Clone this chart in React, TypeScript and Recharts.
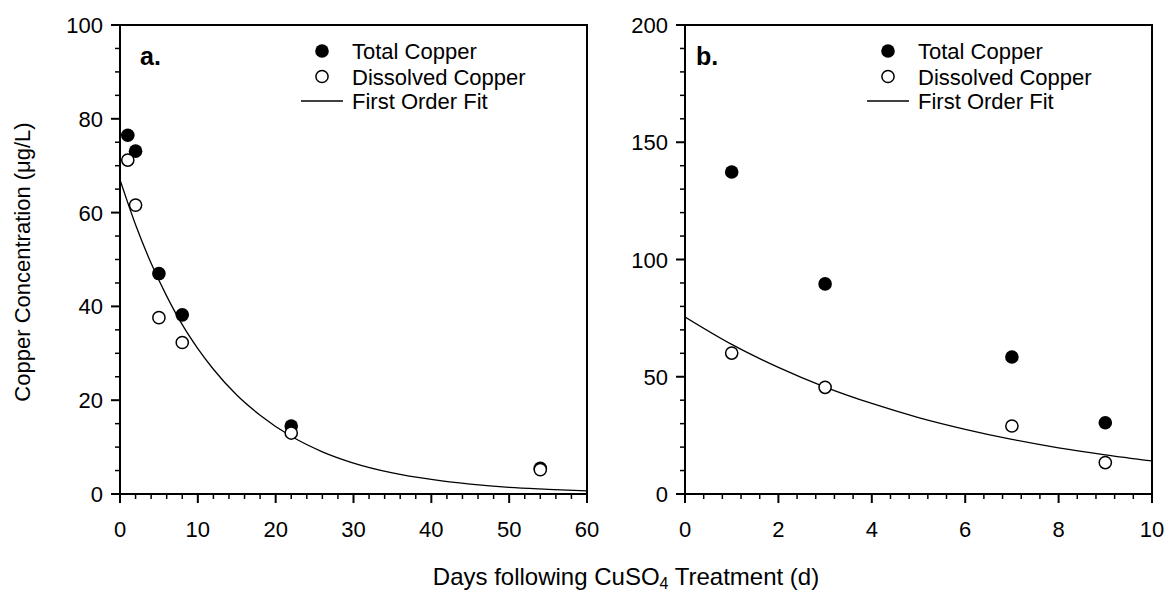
import React from 'react';
import { ComposedChart, Scatter, Line, XAxis, YAxis, ReferenceLine, Legend } from 'recharts';

const FONT = '"Liberation Sans", Arial, Helvetica, sans-serif';

// ---------- Panel a ----------
const daysA = [1, 2, 5, 8, 22, 54];
const totalA = [76.5, 73.1, 47.0, 38.2, 14.5, 5.5];
const dissolvedA = [71.2, 61.6, 37.6, 32.3, 13.0, 5.2];
const fitDaysA = [0, 2, 4, 6, 8, 10, 12, 15, 18, 22, 26, 30, 35, 40, 45, 50, 55, 60];
const fitA = [67.0, 57.4, 49.2, 42.2, 36.1, 31.0, 26.6, 21.1, 16.8, 12.3, 9.0, 6.6, 4.5, 3.1, 2.1, 1.4, 1.0, 0.66];

// ---------- Panel b ----------
const daysB = [1, 3, 7, 9];
const totalB = [137.3, 89.6, 58.4, 30.4];
const dissolvedB = [60.1, 45.5, 29.0, 13.4];
const fitDaysB = [0, 1, 2, 3, 4, 5, 6, 7, 8, 9, 10];
const fitB = [75.5, 63.8, 54.0, 45.6, 38.6, 32.6, 27.6, 23.3, 19.7, 16.7, 14.1];

// ---------- Ticks ----------
const xMajorA = [0, 10, 20, 30, 40, 50, 60];
const yMajorA = [0, 20, 40, 60, 80, 100];
const xMajorB = [0, 2, 4, 6, 8, 10];
const yMajorB = [0, 50, 100, 150, 200];

const legendLabels = ['Total Copper', 'Dissolved Copper', 'First Order Fit'];

const TICK_FS = 22;

const toPts = (xs: number[], ys: number[]) => xs.map((x, i) => ({ x, y: ys[i] }));

const withMinors = (max: number, step: number) => {
  const out: number[] = [];
  const n = Math.round(max / step);
  for (let i = 0; i <= n; i++) out.push(Math.round(i * step * 1000) / 1000);
  return out;
};

const isIn = (arr: number[], v: number) => arr.some((m) => Math.abs(m - v) < 1e-6);

const makeXTick = (majors: number[]) => (props: any) => {
  const { x, y, payload } = props;
  const v = payload.value;
  const major = isIn(majors, v);
  return (
    <g>
      <line x1={x} x2={x} y1={y} y2={y + (major ? 9 : 5)} stroke="#000" strokeWidth={major ? 2 : 1.5} />
      {major && (
        <text x={x} y={y + 43} textAnchor="middle" fontSize={TICK_FS} fontFamily={FONT} fill="#000">
          {String(v)}
        </text>
      )}
    </g>
  );
};

const makeYTick = (majors: number[]) => (props: any) => {
  const { x, y, payload } = props;
  const v = payload.value;
  const major = isIn(majors, v);
  return (
    <g>
      <line x1={x - (major ? 9 : 5)} x2={x} y1={y} y2={y} stroke="#000" strokeWidth={major ? 2 : 1.5} />
      {major && (
        <text x={x - 17} y={y + 8} textAnchor="end" fontSize={TICK_FS} fontFamily={FONT} fill="#000">
          {String(v)}
        </text>
      )}
    </g>
  );
};

const filledShape = (p: any) => <circle cx={p.cx} cy={p.cy} r={6.8} fill="#000" />;
const openShape = (p: any) => <circle cx={p.cx} cy={p.cy} r={6.1} fill="#fff" stroke="#000" strokeWidth={1.5} />;

const LegendContent = () => (
  <svg width={280} height={84} style={{ overflow: 'visible' }}>
    <circle cx={32} cy={13} r={6.8} fill="#000" />
    <text x={62} y={21} fontSize={TICK_FS} fontFamily={FONT} fill="#000">{legendLabels[0]}</text>
    <circle cx={32} cy={38.5} r={6.1} fill="#fff" stroke="#000" strokeWidth={1.5} />
    <text x={62} y={46.5} fontSize={TICK_FS} fontFamily={FONT} fill="#000">{legendLabels[1]}</text>
    <line x1={11} x2={53} y1={63} y2={63} stroke="#000" strokeWidth={1.3} />
    <text x={62} y={71} fontSize={TICK_FS} fontFamily={FONT} fill="#000">{legendLabels[2]}</text>
  </svg>
);

const YAxisTitle = () => (
  <text
    x={30}
    y={262}
    transform="rotate(-90 30 262)"
    textAnchor="middle"
    fontSize={22}
    fontFamily={FONT}
    fill="#000"
  >
    Copper Concentration (μg/L)
  </text>
);

interface PanelProps {
  width: number;
  margin: { top: number; right: number; bottom: number; left: number };
  xMax: number;
  yMax: number;
  xStep: number;
  yStep: number;
  xMajor: number[];
  yMajor: number[];
  total: { x: number; y: number }[];
  dissolved: { x: number; y: number }[];
  fit: { x: number; y: number }[];
  legendLeft: number;
  yLabel?: boolean;
}

const Panel = (p: PanelProps) => (
  <ComposedChart width={p.width} height={592} margin={p.margin}>
    <XAxis
      type="number"
      dataKey="x"
      domain={[0, p.xMax]}
      ticks={withMinors(p.xMax, p.xStep)}
      interval={0}
      tickSize={0}
      tickMargin={0}
      tickLine={false}
      tick={makeXTick(p.xMajor)}
      axisLine={{ stroke: '#000', strokeWidth: 2 }}
      height={40}
      allowDataOverflow
    />
    <YAxis
      type="number"
      dataKey="y"
      domain={[0, p.yMax]}
      ticks={withMinors(p.yMax, p.yStep)}
      interval={0}
      tickSize={0}
      tickMargin={0}
      tickLine={false}
      tick={makeYTick(p.yMajor)}
      axisLine={{ stroke: '#000', strokeWidth: 2 }}
      width={60}
      allowDataOverflow
      label={p.yLabel ? <YAxisTitle /> : undefined}
    />
    <ReferenceLine y={p.yMax} stroke="#000" strokeWidth={2} strokeLinecap="square" />
    <ReferenceLine x={p.xMax} stroke="#000" strokeWidth={2} strokeLinecap="square" />
    <Line
      data={p.fit}
      dataKey="y"
      name={legendLabels[2]}
      type="monotone"
      stroke="#000"
      strokeWidth={1.3}
      dot={false}
      activeDot={false}
      isAnimationActive={false}
    />
    <Scatter data={p.total} dataKey="y" name={legendLabels[0]} shape={filledShape} isAnimationActive={false} />
    <Scatter data={p.dissolved} dataKey="y" name={legendLabels[1]} shape={openShape} isAnimationActive={false} />
    <Legend
      layout="vertical"
      align="center"
      verticalAlign="middle"
      content={<LegendContent />}
      wrapperStyle={{ position: 'absolute', left: p.legendLeft, top: 38, width: 280, height: 84 }}
    />
  </ComposedChart>
);

export default function App() {
  return (
    <div style={{ position: 'absolute', left: 0, top: 0, width: 1169, height: 592, background: '#fff' }}>
      <div style={{ position: 'absolute', left: 0, top: 0 }}>
        <Panel
          width={600}
          margin={{ top: 25, right: 13, bottom: 58, left: 60 }}
          xMax={60}
          yMax={100}
          xStep={2}
          yStep={5}
          xMajor={xMajorA}
          yMajor={yMajorA}
          total={toPts(daysA, totalA)}
          dissolved={toPts(daysA, dissolvedA)}
          fit={toPts(fitDaysA, fitA)}
          legendLeft={290}
          yLabel
        />
      </div>
      <div style={{ position: 'absolute', left: 600, top: 0 }}>
        <Panel
          width={569}
          margin={{ top: 25, right: 17, bottom: 58, left: 25 }}
          xMax={10}
          yMax={200}
          xStep={0.4}
          yStep={10}
          xMajor={xMajorB}
          yMajor={yMajorB}
          total={toPts(daysB, totalB)}
          dissolved={toPts(daysB, dissolvedB)}
          fit={toPts(fitDaysB, fitB)}
          legendLeft={256}
        />
      </div>
      <svg
        width={1169}
        height={592}
        style={{ position: 'absolute', left: 0, top: 0, pointerEvents: 'none' }}
      >
        <text x={140} y={65} fontSize={25} fontWeight="bold" fontFamily={FONT} fill="#000">a.</text>
        <text x={696} y={65} fontSize={25} fontWeight="bold" fontFamily={FONT} fill="#000">b.</text>
        <text x={626} y={585} textAnchor="middle" fontSize={24} fontFamily={FONT} fill="#000">
          <tspan>Days following CuSO</tspan>
          <tspan fontSize={16} dy={4}>4</tspan>
          <tspan dy={-4}> Treatment (d)</tspan>
        </text>
      </svg>
    </div>
  );
}
